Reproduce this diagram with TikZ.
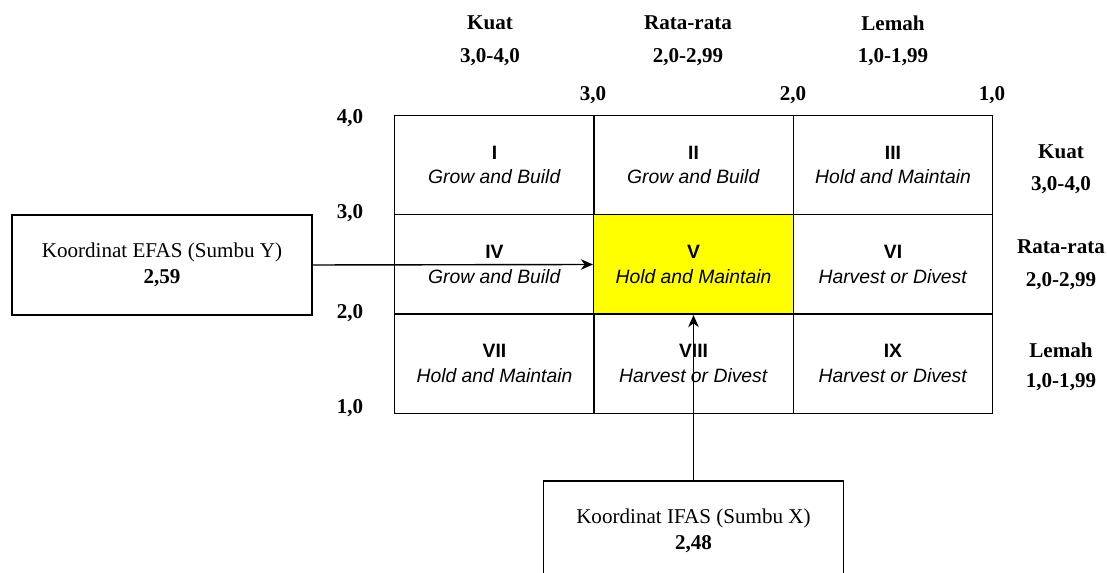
\documentclass[tikz,border=0pt]{standalone}
\usepackage{fontspec}
\setmainfont{Liberation Serif}
\newfontfamily\cellfont{Liberation Sans}
\usepackage{xcolor}
\usetikzlibrary{arrows.meta}
\definecolor{IEYellow}{RGB}{255, 255, 0}

\tikzset{
    cell/.style={draw, line width=0.8pt, minimum width=3.99cm, minimum height=1.99cm, inner sep=0pt, align=center, font=\cellfont\fontsize{11}{14}\selectfont},
    scalelabel/.style={font=\bfseries\fontsize{12}{14}\selectfont, inner sep=0pt},
    coordbox/.style={draw, line width=0.8pt, minimum width=6cm, minimum height=2cm, align=center, font=\fontsize{12}{15}\selectfont},
    link/.style={line width=0.8pt, -{Stealth[length=7pt,width=6pt]}}
}

\begin{document}
\begin{tikzpicture}[x=0.02cm, y=-0.02cm]
    % Page area
    \clip (0,0) rectangle (1107,573);
    \fill[white] (0,0) rectangle (1107,573);

    % Column headers
    \node[scalelabel] (hkuat) at (490,23) {Kuat};
    \node[scalelabel] (hkuatv) at (490,57) {3,0-4,0};
    \node[scalelabel] (hrata) at (688,23) {Rata-rata};
    \node[scalelabel] (hratav) at (688,57) {2,0-2,99};
    \node[scalelabel] (hlemah) at (893,23) {Lemah};
    \node[scalelabel] (hlemahv) at (893,57) {1,0-1,99};

    % X axis ticks
    \node[scalelabel] (x30) at (593,95) {3,0};
    \node[scalelabel] (x20) at (793,95) {2,0};
    \node[scalelabel] (x10) at (992,95) {1,0};

    % Y axis ticks
    \node[scalelabel] (y40) at (350,118) {4,0};
    \node[scalelabel] (y30) at (350,213) {3,0};
    \node[scalelabel] (y20) at (350,313) {2,0};
    \node[scalelabel] (y10) at (350,408) {1,0};

    % Row headers
    \node[scalelabel] (rkuat) at (1061,152) {Kuat};
    \node[scalelabel] (rkuatv) at (1061,185) {3,0-4,0};
    \node[scalelabel] (rrata) at (1061,247) {Rata-rata};
    \node[scalelabel] (rratav) at (1061,281) {2,0-2,99};
    \node[scalelabel] (rlemah) at (1061,350) {Lemah};
    \node[scalelabel] (rlemahv) at (1061,382) {1,0-1,99};

    % Matrix cells
    \node[cell] (c1) at (494.5,165) {\textbf{I}\\\textit{Grow and Build}};
    \node[cell] (c2) at (693.5,165) {\textbf{II}\\\textit{Grow and Build}};
    \node[cell] (c3) at (893,165) {\textbf{III}\\\textit{Hold and Maintain}};
    \node[cell] (c4) at (494.5,264.5) {\textbf{IV}\\\textit{Grow and Build}};
    \node[cell, fill=IEYellow] (c5) at (693.5,264.5) {\textbf{V}\\\textit{Hold and Maintain}};
    \node[cell] (c6) at (893,264.5) {\textbf{VI}\\\textit{Harvest or Divest}};
    \node[cell] (c7) at (494.5,363.5) {\textbf{VII}\\\textit{Hold and Maintain}};
    \node[cell] (c8) at (693.5,363.5) {\textbf{VIII}\\\textit{Harvest or Divest}};
    \node[cell] (c9) at (893,363.5) {\textbf{IX}\\\textit{Harvest or Divest}};

    % Coordinate boxes
    \node[coordbox] (efas) at (162,265) {Koordinat EFAS (Sumbu Y)\\\textbf{2,59}};
    \node[coordbox] (ifas) at (693.5,531) {Koordinat IFAS (Sumbu X)\\\textbf{2,48}};

    % Arrows to position
    \draw[link] (efas.east) -- (c5.west);
    \draw[link] (ifas.north) -- (c5.south);
\end{tikzpicture}
\end{document}
